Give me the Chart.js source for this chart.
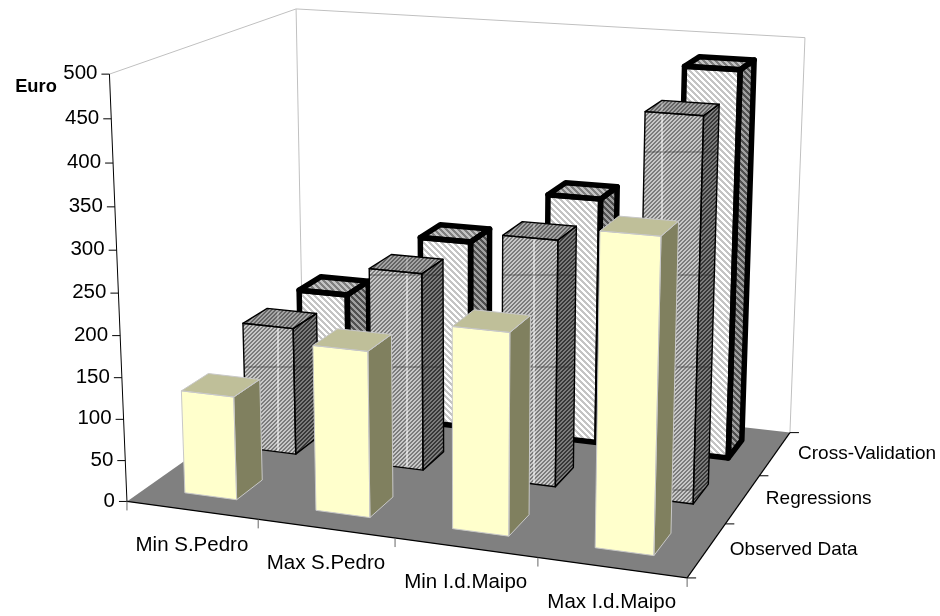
<!DOCTYPE html>
<html>
<head>
<meta charset="utf-8">
<style>html,body{margin:0;padding:0;background:#fff}canvas{display:block}</style>
<script src="https://cdn.jsdelivr.net/npm/chart.js@4"></script>
</head>
<body>
<canvas id="chart" width="940" height="616"></canvas>
<script>
// Sites along the front edge, model variants along the depth edge.
const categories = ['Min S.Pedro', 'Max S.Pedro', 'Min I.d.Maipo', 'Max I.d.Maipo'];
const depthLabels = ['Observed Data', 'Regressions', 'Cross-Validation'];
const observedData = [125, 197, 236, 358];
const regressionData = [160, 244, 299, 455];
const crossValidationData = [158, 242, 310, 478];
const valueMax = 500;
const valueStep = 50;
const axisTitle = 'Euro';

// Room corners on screen, keyed by [across, depth, height] in 0..1.
const roomCorners = [
  [[0, 0, 0], [127, 501.5]], [[1, 0, 0], [687, 578]], [[1, 1, 0], [790, 432.5]],
  [[0, 0, 1], [109.5, 74]], [[0, 1, 1], [296, 9]], [[1, 1, 1], [805, 37.7]]
];

// Least-squares fit of a 3x4 projective camera through the room corners.
function fitCamera(pairs) {
  const n = 11, A = Array.from({length: n}, () => new Array(n + 1).fill(0));
  const add = (row, rhs) => {
    for (let i = 0; i < n; i++) {
      for (let j = 0; j < n; j++) A[i][j] += row[i] * row[j];
      A[i][n] += row[i] * rhs;
    }
  };
  pairs.forEach(([[X, Y, Z], [px, py]]) => {
    const x = px / 1000, y = py / 1000;
    add([X, Y, Z, 1, 0, 0, 0, 0, -x * X, -x * Y, -x * Z], x);
    add([0, 0, 0, 0, X, Y, Z, 1, -y * X, -y * Y, -y * Z], y);
  });
  // A tiny ridge keeps the solve stable.
  for (let i = 0; i < n; i++) A[i][i] += 1e-12;
  for (let c = 0; c < n; c++) {
    let p = c;
    for (let r = c + 1; r < n; r++) if (Math.abs(A[r][c]) > Math.abs(A[p][c])) p = r;
    [A[c], A[p]] = [A[p], A[c]];
    for (let r = 0; r < n; r++) {
      if (r === c) continue;
      const f = A[r][c] / A[c][c];
      for (let k = c; k <= n; k++) A[r][k] -= f * A[c][k];
    }
  }
  return A.map((row, i) => row[n] / row[i]);
}
const cam = fitCamera(roomCorners);
function project(u, v, w) {
  const d = cam[8] * u + cam[9] * v + cam[10] * w + 1;
  return [1000 * (cam[0] * u + cam[1] * v + cam[2] * w + cam[3]) / d,
          1000 * (cam[4] * u + cam[5] * v + cam[6] * w + cam[7]) / d];
}

// Small repeating diagonal hatch tiles.
function hatch(ctx, bg, fg, period, thick, dir) {
  const t = document.createElement('canvas');
  t.width = t.height = period;
  const g = t.getContext('2d');
  for (let y = 0; y < period; y++) for (let x = 0; x < period; x++) {
    const k = ((x + dir * y) % period + period) % period;
    g.fillStyle = k < thick ? fg : bg;
    g.fillRect(x, y, 1, 1);
  }
  return ctx.createPattern(t, 'repeat');
}

function poly(ctx, pts) {
  ctx.beginPath();
  pts.forEach((p, i) => i ? ctx.lineTo(p[0], p[1]) : ctx.moveTo(p[0], p[1]));
  ctx.closePath();
}
function line(ctx, a, b, color, width) {
  ctx.strokeStyle = color; ctx.lineWidth = width;
  ctx.beginPath(); ctx.moveTo(a[0], a[1]); ctx.lineTo(b[0], b[1]); ctx.stroke();
}

const BAR_ACROSS = 0.40, BAR_DEPTH = 0.42;
const LABEL_FONT = '20.5px "Liberation Sans", Arial, sans-serif';
const DEPTH_FONT = '19px "Liberation Sans", Arial, sans-serif';
const SEAM_X = [278, 407, 534, 662];
const SEAM_Y = [152, 275, 367, 490];

const room3d = {
  id: 'room3d',
  beforeDatasetsDraw(chart) {
    const ctx = chart.ctx, {x, y, depth} = chart.scales;
    const uOf = i => (x.getPixelForValue(i) - x.left) / x.width;
    const vOf = i => (depth.getPixelForValue(i) - depth.left) / depth.width;
    const wOf = val => (y.bottom - y.getPixelForValue(val)) / y.height;
    const halfU = BAR_ACROSS / categories.length / 2;
    const halfV = BAR_DEPTH / depthLabels.length / 2;

    ctx.save();
    ctx.lineJoin = 'round';
    // Walls and floor
    poly(ctx, [project(0,0,0), project(1,0,0), project(1,1,0), project(0,1,0)]);
    ctx.fillStyle = '#808080'; ctx.fill();
    const wall = '#c0c0c0';
    line(ctx, project(0,0,1), project(0,1,1), wall, 1);
    line(ctx, project(0,1,1), project(1,1,1), wall, 1);
    line(ctx, project(0,1,1), project(0,1,0), wall, 1);
    line(ctx, project(1,1,1), project(1,1,0), wall, 1);

    // Axis lines
    line(ctx, project(0,0,0), project(0,0,1), '#000', 1);
    line(ctx, project(0,0,0), project(1,0,0), '#000', 1.2);
    line(ctx, project(1,0,0), project(1,1,0), '#000', 1.2);

    // Value axis ticks and labels
    ctx.font = LABEL_FONT; ctx.fillStyle = '#000';
    ctx.textAlign = 'right'; ctx.textBaseline = 'middle';
    y.ticks.forEach(t => {
      const p = project(0, 0, wOf(t.value));
      line(ctx, [p[0] - 8, p[1]], p, '#000', 1);
      ctx.fillText(String(t.value), p[0] - 12, p[1] - 0.5);
    });

    // Across ticks and labels
    for (let i = 0; i <= categories.length; i++) {
      const p = project(i / categories.length, 0, 0);
      line(ctx, p, [p[0], p[1] + 9], '#666', 1);
    }
    ctx.textAlign = 'center';
    categories.forEach((c, i) => {
      const p = project(uOf(i), 0, 0);
      ctx.fillText(c, p[0], p[1] + 35);
    });

    // Depth ticks and labels
    for (let i = 0; i <= depthLabels.length; i++) {
      const p = project(1, i / depthLabels.length, 0);
      line(ctx, p, [p[0] + 9, p[1]], '#000', 1);
    }
    ctx.font = DEPTH_FONT; ctx.textAlign = 'left';
    depthLabels.forEach((c, i) => {
      const p = project(1, vOf(i), 0);
      ctx.fillText(c, p[0] + 23, p[1]);
    });

    // Axis title
    ctx.font = 'bold 18.3px "Liberation Sans", Arial, sans-serif';
    ctx.textAlign = 'center';
    ctx.fillText(axisTitle, 36, 87);

    // Bars, back row first, each as front, side and top faces
    const styles = [
      {front: '#ffffcc', side: '#80805f', top: '#bfbf99', edge: '#c8c8c8', width: 1},
      {front: hatch(ctx, '#c8c8c8', '#7c7c7c', 4, 2, 1),
       side: hatch(ctx, '#7c7c7c', '#383838', 4, 2, 1),
       top: hatch(ctx, '#a4a4a4', '#646464', 4, 2, 1), edge: '#000', width: 1.4},
      {front: hatch(ctx, '#ffffff', '#c4c4c4', 6, 3, -1),
       side: hatch(ctx, '#a0a0a0', '#505050', 6, 3, -1),
       top: hatch(ctx, '#c4c4c4', '#808080', 6, 3, -1), edge: '#000', width: 5.5}
    ];
    for (let d = chart.data.datasets.length - 1; d >= 0; d--) {
      const s = styles[d], v0 = vOf(d) - halfV, v1 = vOf(d) + halfV;
      chart.data.datasets[d].data.forEach((val, i) => {
        const u0 = uOf(i) - halfU, u1 = uOf(i) + halfU, h = wOf(val);
        const front = [project(u0,v0,0), project(u1,v0,0), project(u1,v0,h), project(u0,v0,h)];
        const side = [project(u1,v0,0), project(u1,v1,0), project(u1,v1,h), project(u1,v0,h)];
        const top = [project(u0,v0,h), project(u1,v0,h), project(u1,v1,h), project(u0,v1,h)];
        [[front, s.front], [side, s.side], [top, s.top]].forEach(([f, fill]) => {
          poly(ctx, f); ctx.fillStyle = fill; ctx.fill();
        });
        // Faint seams across the hatched faces of the middle row
        if (d === 1) {
          ctx.save(); poly(ctx, front); ctx.clip();
          line(ctx, [SEAM_X[i], 0], [SEAM_X[i], 616], '#fff', 1);
          ctx.restore();
          ctx.save(); poly(ctx, top); ctx.clip();
          line(ctx, [SEAM_X[i], 0], [SEAM_X[i], 616], 'rgba(255,255,255,.45)', 1);
          ctx.restore();
          [front, side].forEach(f => {
            ctx.save(); poly(ctx, f); ctx.clip();
            SEAM_Y.forEach(sy => line(ctx, [0, sy], [940, sy], 'rgba(40,40,40,.55)', 1));
            ctx.restore();
          });
        }
        [front, side, top].forEach(f => {
          poly(ctx, f); ctx.strokeStyle = s.edge; ctx.lineWidth = s.width; ctx.stroke();
        });
      });
    }
    ctx.restore();
    return false; // the faces above replace the flat bars
  }
};

new Chart(document.getElementById('chart'), {
  type: 'bar',
  data: {
    labels: categories,
    datasets: [
      {label: depthLabels[0], data: observedData},
      {label: depthLabels[1], data: regressionData},
      {label: depthLabels[2], data: crossValidationData}
    ]
  },
  options: {
    responsive: false,
    animation: false,
    plugins: {legend: {display: false}, tooltip: {enabled: false}, title: {display: false}},
    scales: {
      x: {display: false, offset: true},
      depth: {type: 'category', axis: 'x', labels: depthLabels, display: false, offset: true},
      y: {display: false, min: 0, max: valueMax, ticks: {stepSize: valueStep}}
    }
  },
  plugins: [room3d]
});
</script>
</body>
</html>
